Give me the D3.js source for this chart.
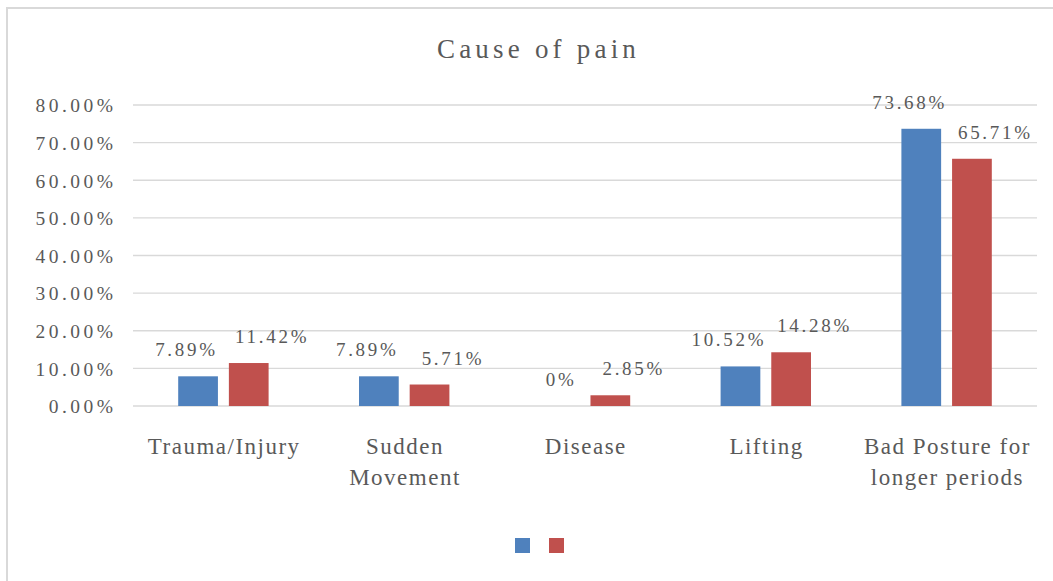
<!DOCTYPE html>
<html><head><meta charset="utf-8">
<script src="https://cdn.jsdelivr.net/npm/d3@7"></script>
<style>body{margin:0;background:#fff;}</style></head>
<body><svg id="c" width="1053" height="581"></svg>
<script>
const categories = ["Trauma/Injury", "Sudden\nMovement", "Disease", "Lifting", "Bad Posture for\nlonger periods"];
const seriesNames = ["", ""];
const series1 = [0.0789, 0.0789, 0, 0.1052, 0.7368];
const series2 = [0.1142, 0.0571, 0.0285, 0.1428, 0.6571];
const yTicks = [0, 0.1, 0.2, 0.3, 0.4, 0.5, 0.6, 0.7, 0.8];
const colors = ["#4F81BD", "#C0504D"];
const title = "Cause of pain";

const FONT = "Liberation Serif";
const TXT = "#595959";
const svg = d3.select("#c").attr("font-family", FONT);
const W = 1053, H = 581;
const m = {left:133, right:1037, top:105, bottom:406};

svg.append("rect").attr("x",7).attr("y",8).attr("width",W+10).attr("height",H+10)
  .attr("fill","#fff").attr("stroke","#d9d9d9").attr("stroke-width",2);

svg.append("text").attr("x",538.5).attr("y",58).attr("text-anchor","middle")
  .attr("font-family",FONT).attr("fill",TXT).attr("font-size",27)
  .attr("letter-spacing",4.2).text(title);

const x = d3.scaleBand().domain(categories).range([m.left,m.right]).paddingInner(0.5).paddingOuter(0.25);
const x1 = d3.scaleBand().domain([0,1]).range([0,x.bandwidth()]).paddingInner(0.216);
const y = d3.scaleLinear().domain([0,0.8]).range([m.bottom,m.top]);

// gridlines
svg.append("g").selectAll("line").data(yTicks).join("line")
  .attr("x1",m.left).attr("x2",m.right).attr("y1",d=>y(d)).attr("y2",d=>y(d))
  .attr("stroke","#d9d9d9").attr("stroke-width",1.3);

// y axis
const yAxis = svg.append("g").attr("transform",`translate(${m.left-16.5},0)`)
  .call(d3.axisLeft(y).tickValues(yTicks).tickFormat(d3.format(".2%")).tickSize(0).tickPadding(0));
yAxis.attr("font-family",FONT).attr("font-size",19.5);
yAxis.select(".domain").remove();
yAxis.selectAll("text").attr("font-family",FONT).attr("fill",TXT)
  .attr("font-size",19.5).attr("letter-spacing",3.5).attr("dy","0.35em");

const data = [series1, series2];
const fmt = v => v === 0 ? "0%" : d3.format(".2%")(v);
const labelDx = [-13, 22];

data.forEach((vals, si) => {
  const g = svg.append("g");
  g.selectAll("rect").data(vals).join("rect")
    .attr("x",(d,i)=>x(categories[i])+x1(si))
    .attr("width",x1.bandwidth())
    .attr("y",d=>y(d)).attr("height",d=>y(0)-y(d))
    .attr("fill",colors[si]);
  g.selectAll("text").data(vals).join("text")
    .attr("x",(d,i)=>x(categories[i])+x1(si)+x1.bandwidth()/2+labelDx[si] + (d===0?13:0) + 1.4)
    .attr("y",d=>y(d)-20)
    .attr("text-anchor","middle").attr("font-family",FONT).attr("fill",TXT)
    .attr("font-size",19).attr("letter-spacing",2.7)
    .text(fmt);
});

// category labels
const cg = svg.append("g");
categories.forEach(c => {
  const t = cg.append("text").attr("text-anchor","middle").attr("font-family",FONT).attr("fill",TXT)
    .attr("font-size",23).attr("letter-spacing",1.5);
  c.split("\n").forEach((line,li)=>{
    t.append("tspan").attr("x",x(c)+x.bandwidth()/2+0.8).attr("y",454+li*31).text(line);
  });
});

// legend
const lg = svg.append("g");
lg.selectAll("rect").data(seriesNames).join("rect")
  .attr("x",(d,i)=>515+i*34).attr("y",538).attr("width",15).attr("height",15)
  .attr("fill",(d,i)=>colors[i]);
</script></body></html>
